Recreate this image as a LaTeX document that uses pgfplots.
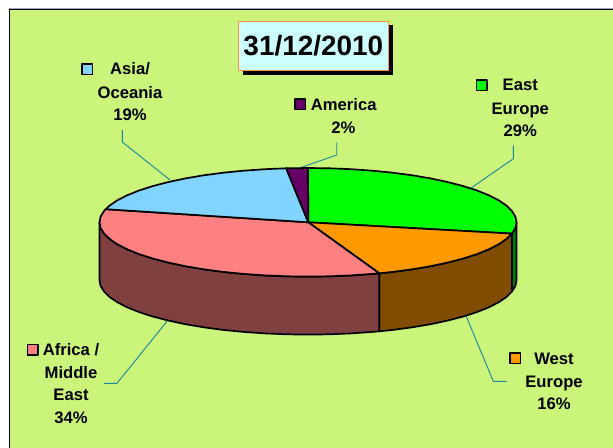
\documentclass[border=0pt]{standalone}
\usepackage{pgfplots}
\pgfplotsset{compat=1.18}
\usepackage{fontspec}
\setmainfont{Liberation Sans}
\definecolor{bg}{HTML}{CAF57A}
\definecolor{cEast}{HTML}{00FF00}
\definecolor{cEastW}{HTML}{007F00}
\definecolor{cWest}{HTML}{FF9900}
\definecolor{cWestW}{HTML}{7F4C00}
\definecolor{cAfr}{HTML}{FF8080}
\definecolor{cAfrW}{HTML}{804040}
\definecolor{cAsia}{HTML}{80D4FF}
\definecolor{cAm}{HTML}{660066}
\definecolor{lead}{HTML}{17889A}
\definecolor{tbox}{HTML}{CCFFFF}
\definecolor{tline}{HTML}{FF9040}
\tikzset{lab/.style={font=\fontsize{16.7}{18}\selectfont\bfseries, anchor=base, inner sep=0pt, text=black}}
\begin{document}
\begin{tikzpicture}[x=1bp,y=1bp]
\begin{axis}[
  scale only axis, width=613bp, height=448bp,
  xmin=0, xmax=613, ymin=0, ymax=448, y dir=reverse,
  hide axis,
  every axis plot/.append style={no markers, line join=round},
]
% page and panel
\addplot[fill=white, draw=none] coordinates {(0,0)(613,0)(613,448)(0,448)} --cycle;
\addplot[fill=bg, draw=black, line width=1.2bp] coordinates {(9.5,9)(620,9)(620,460)(9.5,460)} --cycle;
\addplot[draw=gray!70, line width=0.7bp] coordinates {(9,8)(613,8)};
% leader lines
\addplot[lead, line width=0.9bp] coordinates {(122.3,130)(122.3,142)(170,180)};
\addplot[lead, line width=0.9bp] coordinates {(336.7,142.3)(336.7,155)(298,168.5)};
\addplot[lead, line width=0.9bp] coordinates {(513.3,145.7)(513.3,158.7)(470.7,188.3)};
\addplot[lead, line width=0.9bp] coordinates {(465.7,315)(493.3,381.3)(506.7,381.3)};
\addplot[lead, line width=0.9bp] coordinates {(104,383.3)(117,383.3)(168,320)};
% walls
\addplot[fill=cEastW, draw=black, line width=1.7bp] coordinates {(516.5,222.3)(515.4,228)(511.9,233.6)(511.9,291.6)(515.4,286)(516.5,280.3)} --cycle;
\addplot[fill=cWestW, draw=black, line width=1.7bp] coordinates {(511.9,233.6)(506.3,239.1)(498.5,244.4)(488.6,249.4)(476.7,254.2)(462.9,258.6)(447.5,262.6)(430.6,266.2)(412.3,269.3)(392.8,271.9)(379.3,273.3)
 (379.3,331.3)(392.8,329.9)(412.3,327.3)(430.6,324.2)(447.5,320.6)(462.9,316.6)(476.7,312.2)(488.6,307.4)(498.5,302.4)(506.3,297.1)(511.9,291.6)} --cycle;
\addplot[fill=cAfrW, draw=black, line width=1.7bp] coordinates {(379.3,273.3)(372.4,273.9)(351.3,275.4)(329.8,276.3)(308,276.6)(286.2,276.3)(264.7,275.4)(243.6,273.9)(223.2,271.9)(203.7,269.3)(185.4,266.2)(168.5,262.6)(153.1,258.6)(139.3,254.2)(127.4,249.4)(117.5,244.4)(109.7,239.1)(104.1,233.6)(100.6,228)(99.5,222.3)
 (99.5,280.3)(100.6,286)(104.1,291.6)(109.7,297.1)(117.5,302.4)(127.4,307.4)(139.3,312.2)(153.1,316.6)(168.5,320.6)(185.4,324.2)(203.7,327.3)(223.2,329.9)(243.6,331.9)(264.7,333.4)(286.2,334.3)(308,334.6)(329.8,334.3)(351.3,333.4)(372.4,331.9)(379.3,331.3)} --cycle;
% top faces
\addplot[fill=cEast, draw=black, line width=1.7bp] coordinates {(308.3,222.3)(308,168)(329.8,168.3)(351.3,169.2)(372.4,170.7)(392.8,172.7)(412.3,175.3)(430.6,178.4)(447.5,182)(462.9,186)(476.7,190.4)(488.6,195.2)(498.5,200.2)(506.3,205.5)(511.9,211)(515.4,216.6)(516.5,222.3)(515.4,228)(511.9,233.6)} --cycle;
\addplot[fill=cWest, draw=black, line width=1.7bp] coordinates {(308.3,222.3)(511.9,233.6)(506.3,239.1)(498.5,244.4)(488.6,249.4)(476.7,254.2)(462.9,258.6)(447.5,262.6)(430.6,266.2)(412.3,269.3)(392.8,271.9)(379.3,273.3)} --cycle;
\addplot[fill=cAfr, draw=black, line width=1.7bp] coordinates {(308.3,222.3)(379.3,273.3)(372.4,273.9)(351.3,275.4)(329.8,276.3)(308,276.6)(286.2,276.3)(264.7,275.4)(243.6,273.9)(223.2,271.9)(203.7,269.3)(185.4,266.2)(168.5,262.6)(153.1,258.6)(139.3,254.2)(127.4,249.4)(117.5,244.4)(109.7,239.1)(104.1,233.6)(100.6,228)(99.5,222.3)(100.6,216.6)(104.1,211)(105.7,209.2)} --cycle;
\addplot[fill=cAsia, draw=black, line width=1.7bp] coordinates {(308.3,222.3)(105.7,209.2)(109.7,205.5)(117.5,200.2)(127.4,195.2)(139.3,190.4)(153.1,186)(168.5,182)(185.4,178.4)(203.7,175.3)(223.2,172.7)(243.6,170.7)(264.7,169.2)(286.2,168.3)} --cycle;
\addplot[fill=cAm, draw=black, line width=1.7bp] coordinates {(308.3,222.3)(286.2,168.3)(308,168)} --cycle;
% title box
\addplot[fill=black, draw=none] coordinates {(242.5,25.5)(392.7,25.5)(392.7,75)(242.5,75)} --cycle;
\addplot[fill=tbox, draw=tline, line width=0.8bp] coordinates {(238.5,21.8)(388.3,21.8)(388.3,70.7)(238.5,70.7)} --cycle;
\node[font=\fontsize{28}{30}\selectfont\bfseries, anchor=base, inner sep=0pt] at (axis cs:313.3,56) {31/12/2010};
% legend keys
\addplot[fill=cAsia, draw=black, line width=1.5bp] coordinates {(82.2,64)(92.6,64)(92.6,74.6)(82.2,74.6)} --cycle;
\addplot[fill=cAm, draw=black, line width=1.5bp] coordinates {(295.1,99.1)(305.5,99.1)(305.5,109.6)(295.1,109.6)} --cycle;
\addplot[fill=cEast, draw=black, line width=1.5bp] coordinates {(476.5,80.1)(486.9,80.1)(486.9,90.6)(476.5,90.6)} --cycle;
\addplot[fill=cWest, draw=black, line width=1.5bp] coordinates {(510.1,353.1)(520.5,353.1)(520.5,363.6)(510.1,363.6)} --cycle;
\addplot[fill=cAfr, draw=black, line width=1.5bp] coordinates {(27.5,344.5)(37.9,344.5)(37.9,355)(27.5,355)} --cycle;
% labels
\node[lab] at (axis cs:130,75) {Asia/};
\node[lab] at (axis cs:130,98) {Oceania};
\node[lab] at (axis cs:130,120.7) {19\%};
\node[lab] at (axis cs:343.7,110) {America};
\node[lab] at (axis cs:343.5,133.3) {2\%};
\node[lab] at (axis cs:520.3,91) {East};
\node[lab] at (axis cs:520.3,114.3) {Europe};
\node[lab] at (axis cs:520.3,136) {29\%};
\node[lab] at (axis cs:554,364) {West};
\node[lab] at (axis cs:554,387.3) {Europe};
\node[lab] at (axis cs:554,409) {16\%};
\node[lab] at (axis cs:71,355) {Africa /};
\node[lab] at (axis cs:71,378.3) {Middle};
\node[lab] at (axis cs:71,400) {East};
\node[lab] at (axis cs:71,423.3) {34\%};
\end{axis}
\end{tikzpicture}
\end{document}
